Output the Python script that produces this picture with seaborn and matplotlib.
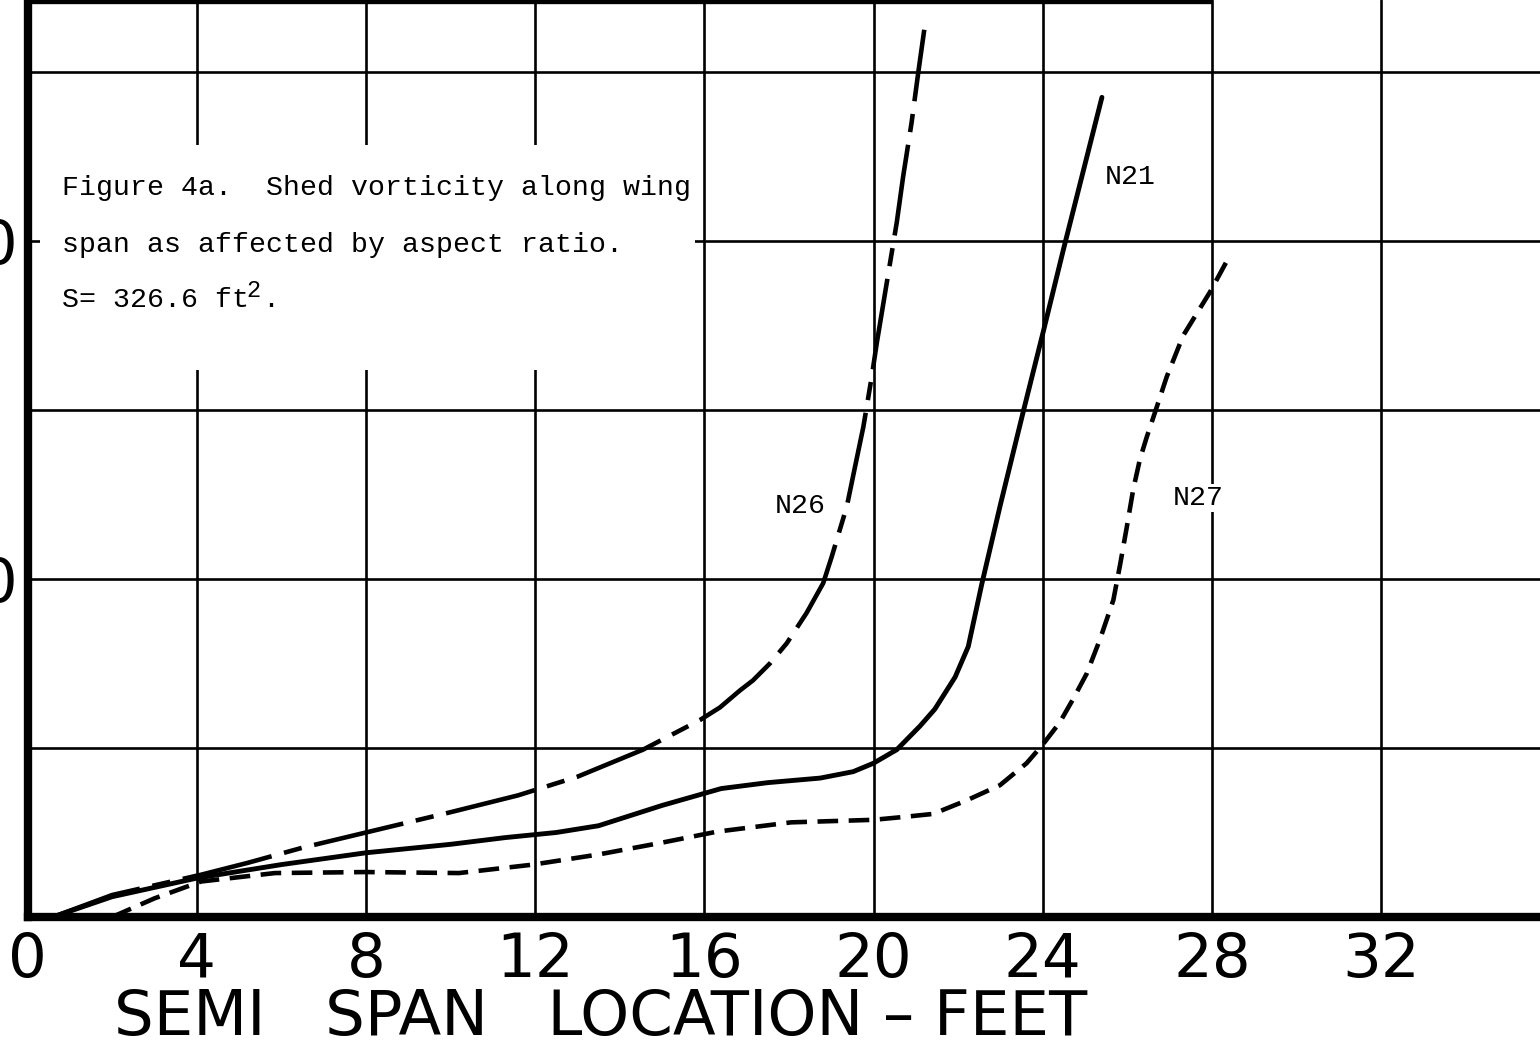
import matplotlib
matplotlib.use("Agg")
import matplotlib.pyplot as plt
import pandas as pd
import seaborn as sns
from matplotlib.patches import Rectangle

# ---- data -------------------------------------------------------------
x_ticks = [0, 4, 8, 12, 16, 20, 24, 28, 32]
y_grid = [0, 10, 20, 30, 40, 50]
y_tick_labels = ["", "", "20", "", "40", ""]

n21_x = [0.6, 2.0, 4.0, 6.0, 8.0, 10.0, 11.3, 12.5, 13.5, 15.0, 16.4, 17.5,
         18.74, 19.52, 20.0, 20.55, 21.1, 21.45, 21.93, 22.24, 22.56,
         23.0, 23.54, 24.01, 24.49, 25.4]
n21_y = [0.0, 1.2, 2.3, 3.1, 3.8, 4.3, 4.7, 5.0, 5.4, 6.6, 7.6, 7.95,
         8.22, 8.6, 9.1, 9.9, 11.3, 12.3, 14.2, 16.0, 19.7,
         24.4, 29.9, 34.6, 39.5, 48.5]

n26_x = [0.6, 2.0, 4.1, 5.2, 6.5, 8.0, 10.0, 11.6, 13.0, 14.55, 15.9, 16.37,
         16.84, 17.15, 17.55, 17.95, 18.42, 18.81, 19.01, 19.37, 19.56,
         19.76, 19.96, 20.08, 20.55, 20.7, 20.9, 21.06, 21.2]
n26_y = [0.0, 1.3, 2.5, 3.2, 4.1, 5.0, 6.2, 7.2, 8.3, 9.9, 11.66, 12.4,
         13.4, 14.0, 15.0, 16.2, 18.0, 19.75, 21.3, 24.3, 26.6,
         29.0, 32.0, 34.0, 41.1, 43.8, 47.0, 50.0, 52.5]

n27_x = [2.0, 3.0, 4.1, 5.85, 8.0, 10.2, 11.95, 13.5, 15.0, 16.3, 18.05, 20.0,
         20.63, 21.41, 22.2, 22.99, 23.62, 24.0, 24.4, 24.72, 25.04, 25.35,
         25.67, 25.83, 25.99, 26.14, 26.3, 26.46, 26.66, 26.93, 27.32, 27.96,
         28.35]
n27_y = [0.0, 1.1, 2.1, 2.6, 2.66, 2.6, 3.1, 3.7, 4.4, 5.05, 5.6, 5.75,
         5.9, 6.1, 6.9, 7.8, 9.1, 10.2, 11.5, 12.9, 14.4, 16.4,
         18.75, 20.85, 23.1, 25.3, 27.1, 28.4, 29.9, 31.95, 34.4, 37.0,
         38.8]

curve_names = ["N21", "N26", "N27"]

df = pd.concat([
    pd.DataFrame({"span_ft": n21_x, "vorticity": n21_y, "curve": "N21"}),
    pd.DataFrame({"span_ft": n26_x, "vorticity": n26_y, "curve": "N26"}),
    pd.DataFrame({"span_ft": n27_x, "vorticity": n27_y, "curve": "N27"}),
], ignore_index=True)

# ---- styling ----------------------------------------------------------
sns.set_theme(style="white")
plt.rcParams["font.family"] = ["DejaVu Sans"]
plt.rcParams["lines.solid_capstyle"] = "round"
plt.rcParams["lines.solid_joinstyle"] = "round"
plt.rcParams["lines.dash_joinstyle"] = "round"

W, H, DPI = 1540, 1047, 100
x0_px, y0_px = 27.5, 917.0          # pixel location of the data origin
px_per_x, px_per_y = 42.3, 16.9     # pixels per data unit
xmax = (W - x0_px) / px_per_x
ymax = y0_px / px_per_y


def to_data(px, py):
    return (px - x0_px) / px_per_x, (y0_px - py) / px_per_y


fig = plt.figure(figsize=(W / DPI, H / DPI), dpi=DPI)
fig.patch.set_facecolor("white")
ax = fig.add_axes([x0_px / W, 1 - y0_px / H, 1 - x0_px / W, y0_px / H])

line_styles = {
    "N21": dict(lw=3.5, dashes=None),
    "N26": dict(lw=3.3, dashes=(20, 2.8, 4, 2.8)),
    "N27": dict(lw=3.3, dashes=(4.5, 2.3)),
}

for name in curve_names:
    sub = df[df["curve"] == name]
    sns.lineplot(data=sub, x="span_ft", y="vorticity", ax=ax, color="black",
                 sort=False, estimator=None, linewidth=line_styles[name]["lw"],
                 zorder=3, legend=False)
    if line_styles[name]["dashes"] is not None:
        ax.lines[-1].set_dashes(line_styles[name]["dashes"])
        ax.lines[-1].set_dash_capstyle("butt")

ax.set_xlim(0, xmax)
ax.set_ylim(0, ymax)
ax.set_xticks(x_ticks)
ax.set_yticks(y_grid)
ax.set_yticklabels(y_tick_labels)
ax.set_axisbelow(True)
ax.grid(True, color="black", linewidth=1.9)

ax.tick_params(axis="x", length=0, pad=10, labelsize=44, colors="black")
ax.tick_params(axis="y", length=0, pad=7, labelsize=44, colors="black")

for side in ("top", "right"):
    ax.spines[side].set_visible(False)
for side in ("left", "bottom"):
    ax.spines[side].set_visible(True)
    ax.spines[side].set_color("black")
    ax.spines[side].set_linewidth(6)

# heavy frame edge across the top
ax.plot([0, 28], [ymax, ymax], color="black", lw=6, clip_on=False,
        solid_capstyle="butt", zorder=4)

ax.set_xlabel("SEMI   SPAN   LOCATION – FEET", fontsize=45, color="black")
ax.xaxis.label.set_va("top")
ax.xaxis.set_label_coords((601 - x0_px) / (W - x0_px), (y0_px - 988) / y0_px)
ax.set_ylabel("")

# caption panel
bx0, by0 = to_data(40, 370)
bx1, by1 = to_data(695, 145)
ax.add_patch(Rectangle((bx0, by0), bx1 - bx0, by1 - by0, facecolor="white",
                       edgecolor="none", zorder=1))

mono = "Liberation Mono"
cap_kw = dict(fontsize=20.3, family=mono, color="black", ha="left",
              va="baseline", zorder=5)
ax.text(*to_data(62, 195), "Figure 4a.  Shed vorticity along wing", **cap_kw)
ax.text(*to_data(62, 252), "span as affected by aspect ratio.", **cap_kw)
ax.text(*to_data(62, 307), "S= 326.6 ft", **cap_kw)
ax.text(*to_data(246, 297), "2", **{**cap_kw, "fontsize": 17})
ax.text(*to_data(262, 307), ".", **cap_kw)

label_kw = dict(fontsize=20.3, family=mono, color="black", ha="center",
                va="center", zorder=5,
                bbox=dict(facecolor="white", edgecolor="none", pad=0.5))
label_pos = {"N21": (1130, 177), "N26": (800, 506), "N27": (1198, 498)}
for name in curve_names:
    ax.text(*to_data(*label_pos[name]), name, **label_kw)

fig.savefig("out.png", dpi=DPI, facecolor="white")
